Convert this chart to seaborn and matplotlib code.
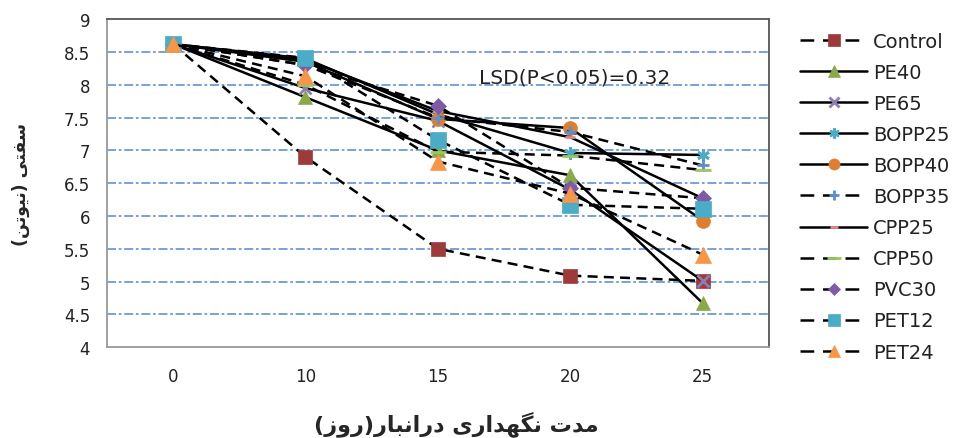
import matplotlib
matplotlib.use("Agg")
import matplotlib.pyplot as plt
import seaborn as sns
import pandas as pd

# ---------------- data ----------------
days = ["0", "10", "15", "20", "25"]
series_names = ["Control", "PE40", "PE65", "BOPP25", "BOPP40", "BOPP35",
                "CPP25", "CPP50", "PVC30", "PET12", "PET24"]
control = [8.62, 6.90, 5.50, 5.09, 5.01]
pe40 = [8.62, 7.81, 7.00, 6.62, 4.67]
pe65 = [8.62, 7.95, 7.45, 6.40, 5.01]
bopp25 = [8.62, 8.40, 7.55, 6.96, 6.93]
bopp40 = [8.62, 8.35, 7.48, 7.34, 5.93]
bopp35 = [8.62, 8.30, 7.50, 7.28, 6.77]
cpp25 = [8.62, 8.38, 7.60, 7.20, 6.27]
cpp50 = [8.62, 8.00, 6.98, 6.92, 6.70]
pvc30 = [8.62, 8.30, 7.68, 6.43, 6.27]
pet12 = [8.62, 8.41, 7.16, 6.17, 6.11]
pet24 = [8.62, 8.13, 6.83, 6.34, 5.41]
values = [control, pe40, pe65, bopp25, bopp40, bopp35, cpp25, cpp50, pvc30, pet12, pet24]
y_ticks = [4, 4.5, 5, 5.5, 6, 6.5, 7, 7.5, 8, 8.5, 9]
y_label = "سفتی (نیوتن)"
x_label = "مدت نگهداری درانبار(روز)"
lsd_text = "LSD(P<0.05)=0.32"

# ---------------- styles ----------------
colors = ["#9E3B3A", "#8AAA4A", "#8E7CB5", "#4BACC6", "#E07E30", "#5B8FCF",
          "#E8878A", "#9BC85A", "#7D5BA6", "#4BACC6", "#F79646"]
markers = ["s", "^", "x", (6, 2, 0), "o", "+", "_", "_", "D", "s", "^"]
msizes = [10, 10, 9, 9, 10, 9, 7, 12, 8, 11, 11]
dashed = [True, False, False, False, False, True, False, True, True, True, True]

# ---------------- minimal Arabic-script shaping ----------------
FORMS = {  # isolated, final, initial, medial
    "ا": ("\uFE8D", "\uFE8E", None, None),
    "ب": ("\uFE8F", "\uFE90", "\uFE91", "\uFE92"),
    "ت": ("\uFE95", "\uFE96", "\uFE97", "\uFE98"),
    "د": ("\uFEA9", "\uFEAA", None, None),
    "ر": ("\uFEAD", "\uFEAE", None, None),
    "ز": ("\uFEAF", "\uFEB0", None, None),
    "س": ("\uFEB1", "\uFEB2", "\uFEB3", "\uFEB4"),
    "ف": ("\uFED1", "\uFED2", "\uFED3", "\uFED4"),
    "م": ("\uFEE1", "\uFEE2", "\uFEE3", "\uFEE4"),
    "ن": ("\uFEE5", "\uFEE6", "\uFEE7", "\uFEE8"),
    "ه": ("\uFEE9", "\uFEEA", "\uFEEB", "\uFEEC"),
    "و": ("\uFEED", "\uFEEE", None, None),
    "ی": ("\uFBFC", "\uFBFD", "\uFBFE", "\uFBFF"),
    "گ": ("\uFB92", "\uFB93", "\uFB94", "\uFB95"),
}


def dual(c):
    return c in FORMS and FORMS[c][2] is not None


def shape(text):
    out = []
    for i, c in enumerate(text):
        if c not in FORMS:
            out.append(c)
            continue
        prev = text[i - 1] if i > 0 else ""
        nxt = text[i + 1] if i + 1 < len(text) else ""
        jp = dual(prev)
        jn = dual(c) and nxt in FORMS
        iso, fin, ini, med = FORMS[c]
        if jp and jn:
            out.append(med)
        elif jp:
            out.append(fin)
        elif jn:
            out.append(ini)
        else:
            out.append(iso)
    vis = "".join(reversed(out))
    return vis.translate(str.maketrans("()", ")("))


# ---------------- plot ----------------
sns.set_theme(style="white")
plt.rcParams["font.family"] = ["DejaVu Sans"]

fig = plt.figure(figsize=(9.54, 4.39), dpi=100)
ax = fig.add_axes([0.112, 0.207, 0.694, 0.747])

for name, vals, col, mk, ms, ds in zip(series_names, values, colors, markers, msizes, dashed):
    df = pd.DataFrame({"day": days, "val": vals})
    mew = 2.0 if mk in ("x", "+", "_", (6, 2, 0)) else 0.5
    sns.lineplot(data=df, x="day", y="val", ax=ax, color="black",
                 linestyle=(0, (4, 2.5)) if ds else "-", linewidth=1.8,
                 marker=mk, markersize=ms, markerfacecolor=col,
                 markeredgecolor=col, markeredgewidth=mew, label=name,
                 sort=False)

ax.set_ylim(4, 9)
ax.set_xlim(-0.5, 4.5)
ax.set_yticks(y_ticks)
ax.set_yticklabels([f"{t:g}" for t in y_ticks], fontsize=12, color="#222222")
ax.tick_params(axis="x", labelsize=12, labelcolor="#222222", pad=8)
ax.tick_params(axis="y", pad=6)
ax.set_xlabel("")
ax.set_ylabel("")
for y in y_ticks[1:-1]:
    ax.axhline(y, color="#6E9BD8", linestyle=(0, (5, 1.5, 1.5, 1.5)), linewidth=1.3, zorder=0)
for s in ax.spines.values():
    s.set_color("#555555")
    s.set_linewidth(1.3)
ax.spines["bottom"].set_color("#999999")
ax.spines["left"].set_color("#999999")

ax.text(3.03, 8.12, lsd_text, fontsize=14.5, ha="center", va="center", color="#222222")

leg = ax.legend(loc="upper left", bbox_to_anchor=(800 / 954, 1 - 33 / 439),
                bbox_transform=fig.transFigure, frameon=False,
                fontsize=14, handlelength=3.45, labelspacing=0.62, handletextpad=0.3,
                borderaxespad=0, borderpad=0, markerscale=0.8)
for t in leg.get_texts():
    t.set_color("#222222")
for h, ds in zip(leg.legend_handles, dashed):
    if ds:
        h.set_linestyle((0, (5.5, 3.5)))

fig.text(0.022, 0.58, shape(y_label), rotation=90, ha="center", va="center",
         fontsize=12.5, fontweight="bold")
fig.text(0.478, 0.035, shape(x_label), ha="center", va="center",
         fontsize=16, fontweight="bold")

fig.savefig("out.png", dpi=100)
